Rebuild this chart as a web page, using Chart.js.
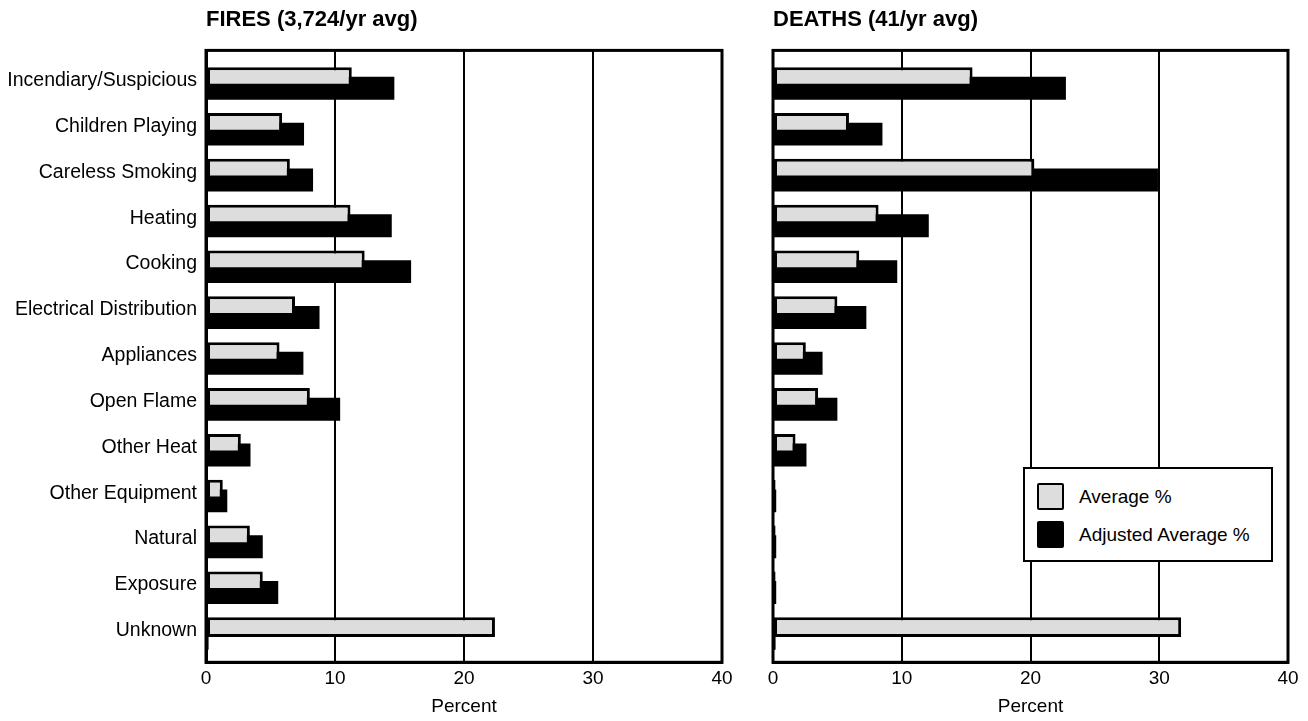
<!DOCTYPE html>
<html>
<head>
<meta charset="utf-8">
<script src="https://cdn.jsdelivr.net/npm/chart.js@4/dist/chart.umd.min.js"></script>
<style>
  body { margin: 0; background: #fff; }
  #wrap { position: relative; width: 1308px; height: 721px; }
  #firesBox { position: absolute; left: 0; top: 0; width: 740px; height: 721px; }
  #deathsBox { position: absolute; left: 740px; top: 0; width: 568px; height: 721px; }
  #legend {
    position: absolute; left: 1023px; top: 467px; width: 250px; height: 95px;
    box-sizing: border-box; border: 2px solid #000; background: #fff;
    font-family: "Liberation Sans", Arial, sans-serif; font-size: 19px; color: #000;
  }
  .item { position: absolute; left: 12px; height: 27px; display: flex; align-items: center; }
  .swatch { width: 27px; height: 27px; box-sizing: border-box; border: 2px solid #000; border-radius: 2px; margin-right: 15px; }
</style>
</head>
<body>
<div id="wrap">
  <div id="firesBox"><canvas id="fires"></canvas></div>
  <div id="deathsBox"><canvas id="deaths"></canvas></div>
  <div id="legend"></div>
</div>
<script>
// ===== Data =====
const categories = ['Incendiary/Suspicious', 'Children Playing', 'Careless Smoking', 'Heating', 'Cooking',
  'Electrical Distribution', 'Appliances', 'Open Flame', 'Other Heat', 'Other Equipment', 'Natural',
  'Exposure', 'Unknown'];
const xTicks = [0, 10, 20, 30, 40];
const seriesNames = ['Average %', 'Adjusted Average %'];

const fireAvg = [11.3, 5.9, 6.5, 11.2, 12.3, 6.9, 5.7, 8.05, 2.7, 1.3, 3.4, 4.4, 22.4];
const fireAdj = [14.6, 7.6, 8.3, 14.4, 15.9, 8.8, 7.55, 10.4, 3.45, 1.65, 4.4, 5.6, 0.2];
const deathAvg = [15.5, 5.9, 20.3, 8.2, 6.7, 5.0, 2.55, 3.5, 1.75, 0.2, 0.2, 0.2, 31.7];
const deathAdj = [22.75, 8.5, 29.9, 12.1, 9.65, 7.25, 3.85, 5.0, 2.6, 0.25, 0.25, 0.25, 0.2];

const FONT = '"Liberation Sans", Arial, sans-serif';
const GRAY = '#dddddd';

// Frame around plot area
const framePlugin = {
    id: 'frame',
    afterDraw(chart) {
        const { ctx, chartArea: a } = chart;
        ctx.save();
        ctx.strokeStyle = '#000';
        ctx.lineWidth = 3;
        ctx.strokeRect(a.left, a.top, a.right - a.left, a.bottom - a.top);
        ctx.restore();
    }
};

function toPoints(values) {
    return values.map((v, i) => ({ x: v, y: i }));
}

function makeChart(id, title, avg, adj, showLabels, padding) {
    const ctx = document.getElementById(id).getContext('2d');
    return new Chart(ctx, {
        type: 'bar',
        data: {
            datasets: [{
                label: seriesNames[0],
                data: toPoints(avg),
                backgroundColor: GRAY,
                borderColor: '#000',
                borderWidth: 3,
                borderSkipped: false,
                categoryPercentage: 0.493,
                barPercentage: 1.74
            }, {
                label: seriesNames[1],
                data: toPoints(adj),
                backgroundColor: '#000',
                borderWidth: 0,
                categoryPercentage: 0.493,
                barPercentage: 2.03
            }]
        },
        options: {
            indexAxis: 'y',
            responsive: true,
            maintainAspectRatio: false,
            animation: false,
            layout: { padding: padding },
            plugins: {
                legend: { display: false },
                tooltip: { enabled: false },
                title: {
                    display: true,
                    text: title,
                    align: 'start',
                    fullSize: false,
                    color: '#000',
                    font: { family: FONT, size: 22, weight: 'bold' },
                    padding: { top: 7, bottom: 17 }
                }
            },
            scales: {
                x: {
                    type: 'linear',
                    min: xTicks[0],
                    max: xTicks[xTicks.length - 1],
                    afterBuildTicks: s => { s.ticks = xTicks.map(v => ({ value: v })); },
                    grid: { color: '#000', lineWidth: 2, drawTicks: false },
                    border: { display: true, color: '#000', width: 3 },
                    ticks: { color: '#000', padding: 6, font: { family: FONT, size: 19, lineHeight: 1.1 } },
                    title: {
                        display: true, text: 'Percent', color: '#000',
                        font: { family: FONT, size: 19 }, padding: { top: 0, bottom: 0 }
                    }
                },
                y: {
                    type: 'linear',
                    reverse: true,
                    offset: false,
                    min: -0.703,
                    max: 12.645,
                    display: showLabels,
                    grid: { display: false, drawTicks: false, offset: false },
                    border: { display: true, color: '#000', width: 3 },
                    ticks: {
                        stepSize: 1,
                        autoSkip: false,
                        includeBounds: false,
                        padding: 9,
                        labelOffset: -2,
                        color: '#000',
                        font: { family: FONT, size: 19.5 },
                        callback: v => categories[v] ?? ''
                    },
                    afterFit: s => { if (showLabels) s.width = 206; }
                }
            }
        },
        plugins: [framePlugin]
    });
}

const fires = makeChart('fires', 'FIRES (3,724/yr avg)', fireAvg, fireAdj, true,
    { left: 0, right: 18, top: 0, bottom: 3 });
const deaths = makeChart('deaths', 'DEATHS (41/yr avg)', deathAvg, deathAdj, false,
    { left: 33, right: 20, top: 0, bottom: 3 });

// HTML legend from the dataset styles
const legendEl = document.getElementById('legend');
deaths.data.datasets.forEach((ds, i) => {
    const item = document.createElement('div');
    item.className = 'item';
    item.style.top = (14 + i * 38) + 'px';
    const sw = document.createElement('span');
    sw.className = 'swatch';
    sw.style.background = ds.backgroundColor;
    const txt = document.createElement('span');
    txt.textContent = ds.label;
    item.appendChild(sw);
    item.appendChild(txt);
    legendEl.appendChild(item);
});
</script>
</body>
</html>
